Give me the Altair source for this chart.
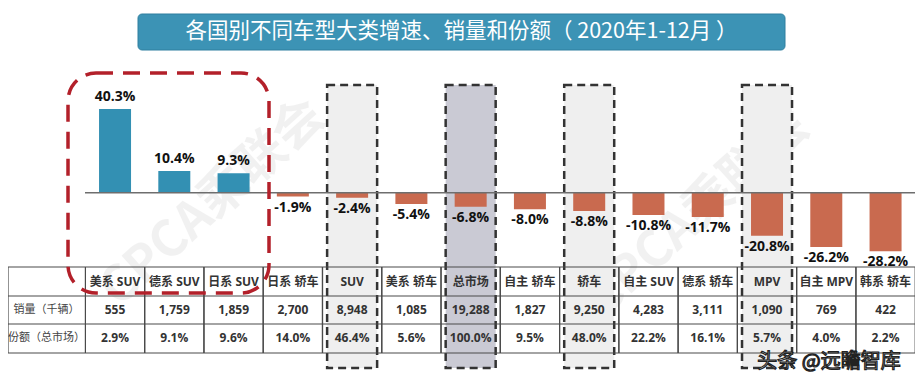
import altair as alt
import pandas as pd

# ---------------- data ----------------
cats = ["美系 SUV", "德系 SUV", "日系 SUV", "日系 轿车", "SUV", "美系 轿车", "总市场",
        "自主 轿车", "轿车", "自主 SUV", "德系 轿车", "MPV", "自主 MPV", "韩系 轿车"]
growth = [40.3, 10.4, 9.3, -1.9, -2.4, -5.4, -6.8, -8.0, -8.8, -10.8, -11.7, -20.8, -26.2, -28.2]
sales = [555, 1759, 1859, 2700, 8948, 1085, 19288, 1827, 9250, 4283, 3111, 1090, 769, 422]
share = [2.9, 9.1, 9.6, 14.0, 46.4, 5.6, 100.0, 9.5, 48.0, 22.2, 16.1, 5.7, 4.0, 2.2]
light_boxes = ["SUV", "轿车", "MPV"]
dark_boxes = ["总市场"]
row_labels = ["销量（千辆）", "份额（总市场）"]
title_text = "各国别不同车型大类增速、销量和份额（ 2020年1-12月 ）"
watermark = "CPCA乘联会"
credit = "头条 @远瞻智库"

df = pd.DataFrame({"cat": cats, "growth": growth, "sales": sales, "share": share})
df["zero"] = 0.0
one = pd.DataFrame({"zero": [0.0]})

W, H = 907, 366
FONT = "Open Sans, Noto Sans CJK SC"
CJK = "Noto Sans CJK SC"
BLUE = "#3390b3"
ORANGE = "#c96a4f"

xs = alt.Scale(domain=cats, range=[77.4, 907.2], paddingInner=0, paddingOuter=0)
ys = alt.Scale(domain=[-87.3, 88.9], nice=False, zero=False)
X = alt.X("cat:N", scale=xs, axis=None)
Y = alt.Y("growth:Q", scale=ys, axis=None)

base = alt.Chart(df)
layers = []

# watermarks
for (wx, wy) in [(205, 195), (690, 205)]:
    layers.append(
        alt.Chart(pd.DataFrame({"t": [watermark]})).mark_text(
            font=CJK, fontSize=50, fontWeight="bold", angle=318, color="#000000", opacity=0.05
        ).encode(x=alt.value(wx), y=alt.value(wy), text="t:N")
    )

# dashed highlight boxes
layers.append(
    base.transform_filter(alt.FieldOneOfPredicate(field="cat", oneOf=light_boxes)).mark_bar(
        size=50, fill="#efefef", stroke="#333333", strokeWidth=2.5, strokeDash=[8, 5]
    ).encode(x=X, y=alt.value(77), y2=alt.value(360))
)
layers.append(
    base.transform_filter(alt.FieldOneOfPredicate(field="cat", oneOf=dark_boxes)).mark_bar(
        size=50, fill="#cacad4", stroke="#333333", strokeWidth=2.5, strokeDash=[8, 5]
    ).encode(x=X, y=alt.value(77), y2=alt.value(360))
)

# table grid
for yy in [259, 288, 316, 345]:
    layers.append(
        alt.Chart(one).mark_rule(color="#4a4a4a", strokeWidth=1.2).encode(
            x=alt.value(0), x2=alt.value(907), y=alt.value(yy)
        )
    )
layers.append(
    alt.Chart(one).mark_rule(color="#4a4a4a", strokeWidth=1.2).encode(
        x=alt.value(0), y=alt.value(259), y2=alt.value(345)
    )
)
for bp in [0, 1]:
    layers.append(
        base.mark_rule(color="#4a4a4a", strokeWidth=1.2).encode(
            x=alt.X("cat:N", scale=xs, axis=None, bandPosition=bp),
            y=alt.value(259), y2=alt.value(345)
        )
    )

# bars
layers.append(
    base.mark_bar(size=32).encode(
        x=X,
        y=Y,
        y2="zero:Q",
        color=alt.condition(alt.datum.growth > 0, alt.value(BLUE), alt.value(ORANGE)),
    )
)

# zero line
layers.append(
    alt.Chart(one).mark_rule(color="#6e6e6e", strokeWidth=1.5).encode(
        x=alt.value(77), x2=alt.value(907), y=alt.Y("zero:Q", scale=ys, axis=None)
    )
)

# bar labels
lab = base.transform_calculate(lbl="replace(format(datum.growth, '.1f'), '\u2212', '-') + '%'")
layers.append(
    lab.transform_filter(alt.datum.growth > 0).mark_text(
        font=FONT, fontSize=14, fontWeight="bold", baseline="bottom", dy=-5, color="#111111"
    ).encode(x=X, y=Y, text="lbl:N")
)
layers.append(
    lab.transform_filter(alt.datum.growth < 0).mark_text(
        font=FONT, fontSize=14, fontWeight="bold", baseline="top", dy=4, color="#111111"
    ).encode(x=X, y=Y, text="lbl:N")
)

# table texts
layers.append(
    base.mark_text(font=FONT, fontSize=12, fontWeight="bold", color="#333333").encode(
        x=X, y=alt.value(273.5), text="cat:N"
    )
)
layers.append(
    base.mark_text(font=FONT, fontSize=12, fontWeight="bold", color="#333333").encode(
        x=X, y=alt.value(302), text=alt.Text("sales:Q", format=",")
    )
)
layers.append(
    base.transform_calculate(s="format(datum.share, '.1f') + '%'").mark_text(
        font=FONT, fontSize=12, fontWeight="bold", color="#333333"
    ).encode(x=X, y=alt.value(330), text="s:N")
)
for lbl, yy in zip(row_labels, [302, 330]):
    layers.append(
        alt.Chart(pd.DataFrame({"t": [lbl]})).mark_text(font=CJK, fontSize=11, color="#444444").encode(
            x=alt.value(38.5), y=alt.value(yy), text="t:N"
        )
    )

# red rounded dashed box
layers.append(
    alt.Chart(one).mark_rect(
        filled=False, stroke="#b3202a", strokeWidth=3.5, strokeDash=[17, 10], cornerRadius=28
    ).encode(x=alt.value(60), x2=alt.value(261), y=alt.value(65), y2=alt.value(285))
)

# title banner
layers.append(
    alt.Chart(one).mark_rect(fill="#3c93b5", stroke="#2f7f9f", strokeWidth=1, cornerRadius=4).encode(
        x=alt.value(130), x2=alt.value(777), y=alt.value(6), y2=alt.value(42)
    )
)
layers.append(
    alt.Chart(pd.DataFrame({"t": [title_text]})).mark_text(
        font=CJK, fontSize=21.5, color="#ffffff"
    ).encode(x=alt.value(453.5), y=alt.value(24), text="t:N")
)

# credit
layers.append(
    alt.Chart(pd.DataFrame({"t": [credit]})).mark_text(
        font=CJK, fontSize=20, fill="#ffffff", stroke="#222222", strokeWidth=1.2
    ).encode(x=alt.value(821), y=alt.value(354), text="t:N")
)

chart = alt.layer(*layers).properties(
    width=W, height=H, padding=0, autosize="none"
).configure_view(strokeWidth=0)

chart.save("out.html", embed_options={"renderer": "svg", "actions": False})
